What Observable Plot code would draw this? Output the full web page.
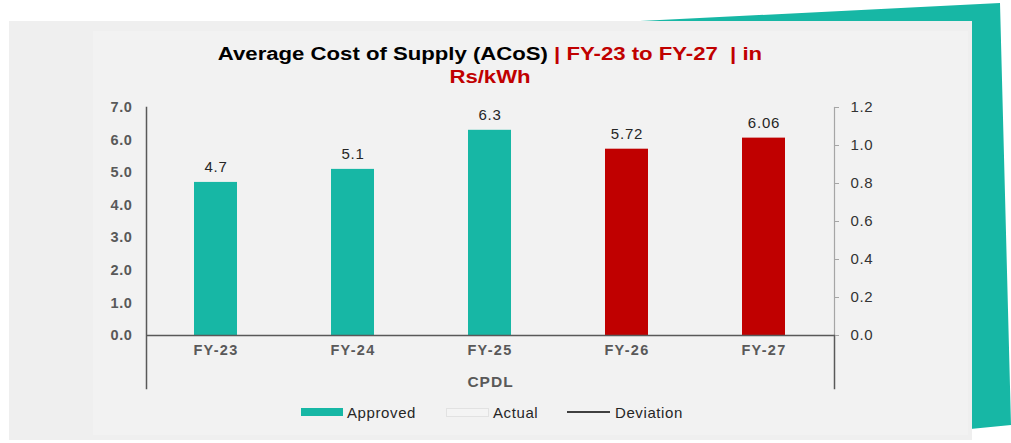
<!DOCTYPE html>
<html>
<head>
<meta charset="utf-8">
<script src="https://cdn.jsdelivr.net/npm/d3@7"></script>
<script src="https://cdn.jsdelivr.net/npm/@observablehq/plot@0.6"></script>
<style>
  html, body { margin: 0; padding: 0; background: #ffffff; }
  body { width: 1011px; height: 443px; position: relative; overflow: hidden; font-family: "Liberation Sans", Arial, sans-serif; }
  .teal { position: absolute; left: 0; top: 0; width: 1011px; height: 443px; background: #17b7a5;
          clip-path: polygon(640px 21px, 1000px 3px, 1011px 425px, 960px 430px, 960px 21px); }
  .panel { position: absolute; left: 9px; top: 21px; width: 963px; height: 419px; background: #efefef; }
  .inner { position: absolute; left: 93px; top: 31px; width: 875px; height: 404px; background: #f2f2f2; }
  .title { position: absolute; left: 0; width: 980px; top: 43px; text-align: center; font-weight: bold; font-size: 18px; line-height: 23px; color: #000; transform: scaleX(1.23); transform-origin: 490px 0; }
  .title .red { color: #c00000; }
  #chart { position: absolute; left: 0; top: 0; }
  .legend { position: absolute; top: 402px; left: 0; width: 1011px; height: 20px; font-size: 15px; color: #262626; }
  .legend .item { position: absolute; top: 0; display: flex; align-items: center; height: 20px; letter-spacing: 0.6px; }
  .sw { width: 42px; height: 8px; margin-right: 4px; }
  .ln { width: 43px; height: 2px; background: #404040; margin-right: 5px; }
</style>
</head>
<body>
<div class="teal"></div>
<div class="panel"></div>
<div class="inner"></div>
<div id="chart"></div>
<div class="title">Average Cost of Supply (ACoS) <span class="red">| FY-23 to FY-27&nbsp; | in<br>Rs/kWh</span></div>
<div class="legend">
  <div class="item" style="left:301px"><div class="sw" style="background:#17b7a5"></div>Approved</div>
  <div class="item" style="left:446px"><div class="sw" style="background:#f4f4f4;border:1px solid #e2e2e2;height:7px;width:41px"></div>Actual</div>
  <div class="item" style="left:567px"><div class="ln"></div>Deviation</div>
</div>
<script>
const categories = ["FY-23", "FY-24", "FY-25", "FY-26", "FY-27"];
const values = [4.7, 5.1, 6.3, 5.72, 6.06];
const labels = ["4.7", "5.1", "6.3", "5.72", "6.06"];
const status = ["Approved", "Approved", "Approved", "Projected", "Projected"];
const leftTicks = [0, 1, 2, 3, 4, 5, 6, 7];
const rightTicks = [0, 0.2, 0.4, 0.6, 0.8, 1.0, 1.2];
const groupLabel = "CPDL";

const leftMax = 7, rightMax = 1.2;
const data = categories.map((c, i) => ({cat: c, value: values[i], label: labels[i], status: status[i]}));

const plot = Plot.plot({
  width: 1011,
  height: 443,
  marginLeft: 146,
  marginRight: 177,
  marginTop: 107,
  marginBottom: 108,
  style: {background: "transparent", fontFamily: "'Liberation Sans', Arial, sans-serif"},
  x: {domain: categories, paddingInner: 0.685, paddingOuter: 0.3425},
  y: {domain: [0, leftMax]},
  color: {domain: ["Approved", "Projected"], range: ["#17b7a5", "#c00000"]},
  marks: [
    Plot.barY(data, {x: "cat", y: "value", fill: "status"}),
    Plot.text(data, {x: "cat", y: "value", text: "label", dy: -15, fontSize: 15, fill: "#262626"}),
    Plot.ruleY([0], {stroke: "#595959", strokeWidth: 1.5}),
    Plot.frame({anchor: "left", stroke: "#595959", strokeWidth: 1.5, insetBottom: -53}),
    Plot.frame({anchor: "right", stroke: "#a6a6a6", strokeWidth: 1.2}),
    Plot.frame({anchor: "right", stroke: "#595959", strokeWidth: 1.5, insetTop: 228, insetBottom: -53}),
    Plot.axisY(leftTicks, {anchor: "left", tickSize: 0, tickPadding: 14, tickFormat: d => d.toFixed(1), fontSize: 14.5, fontWeight: "bold", fill: "#595959", label: null}),
    Plot.axisY(rightTicks.map(v => v * leftMax / rightMax), {anchor: "right", tickSize: 4, tickPadding: 12, stroke: "#a6a6a6", tickFormat: d => (d * rightMax / leftMax).toFixed(1), fontSize: 15, fill: "#333", label: null}),
    Plot.axisX({anchor: "bottom", tickSize: 0, tickPadding: 9, fontSize: 14.5, fontWeight: "bold", fill: "#595959", label: groupLabel, labelAnchor: "center", labelArrow: "none", labelOffset: 51})
  ]
});
const svg = d3.select(plot);
svg.selectAll('g[aria-label="x-axis tick label"] text').attr("letter-spacing", "1.3px");
svg.selectAll('g[aria-label="x-axis label"] text').attr("font-size", 15.5).attr("letter-spacing", "1px");
svg.selectAll('g[aria-label="text"] text').attr("letter-spacing", "0.8px");
svg.selectAll('g[aria-label="y-axis tick label"] text').attr("letter-spacing", "0.6px");
document.getElementById("chart").appendChild(plot);
</script>
</body>
</html>
